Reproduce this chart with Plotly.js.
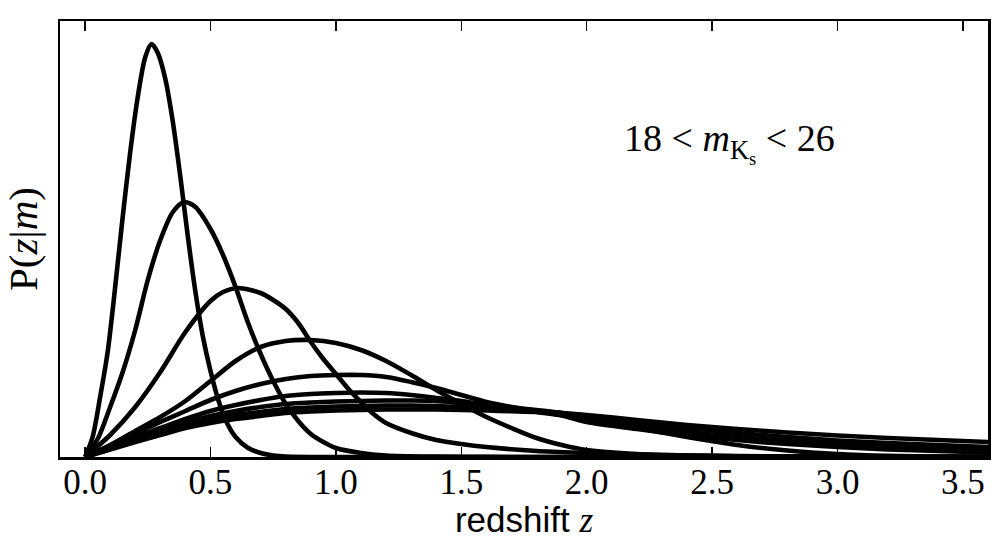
<!DOCTYPE html>
<html>
<head>
<meta charset="utf-8">
<script src="https://cdn.plot.ly/plotly-3.0.1.min.js"></script>
<style>
  html, body { margin: 0; padding: 0; background: #ffffff; }
  #chart { width: 1008px; height: 540px; }
</style>
</head>
<body>
<div id="chart"></div>
<script>
// Redshift distributions P(z|m), one curve per magnitude bin (bright -> faint)
const z1 = [0, 0.03, 0.06, 0.09, 0.12, 0.15, 0.18, 0.21, 0.24, 0.265, 0.29, 0.32, 0.35, 0.38, 0.41, 0.44, 0.47, 0.50, 0.53, 0.56, 0.60, 0.65, 0.70, 0.75, 0.80, 1.0, 2.0, 3.6];
const p1 = [0, 0.2, 0.6, 1.05, 1.7, 2.4, 3.05, 3.6, 4.0, 4.13, 4.04, 3.78, 3.35, 2.8, 2.2, 1.65, 1.2, 0.86, 0.58, 0.37, 0.2, 0.09, 0.04, 0.015, 0.005, 0, 0, 0];

const z2 = [0, 0.05, 0.1, 0.15, 0.2, 0.25, 0.3, 0.35, 0.395, 0.44, 0.5, 0.55, 0.6, 0.65, 0.7, 0.75, 0.8, 0.85, 0.9, 0.95, 1.0, 1.1, 1.2, 1.4, 1.6, 2.0, 3.6];
const p2 = [0, 0.18, 0.5, 0.85, 1.27, 1.77, 2.17, 2.45, 2.55, 2.5, 2.28, 2.02, 1.7, 1.34, 1.03, 0.76, 0.53, 0.36, 0.23, 0.15, 0.09, 0.04, 0.015, 0.004, 0.001, 0, 0];

const z3 = [0, 0.1, 0.2, 0.3, 0.4, 0.5, 0.55, 0.61, 0.7, 0.75, 0.8, 0.85, 0.9, 0.95, 1.0, 1.05, 1.1, 1.15, 1.2, 1.3, 1.4, 1.5, 1.6, 1.8, 2.0, 2.2, 2.5, 3.0, 3.6];
const p3 = [0, 0.22, 0.5, 0.85, 1.25, 1.56, 1.65, 1.69, 1.64, 1.57, 1.48, 1.34, 1.15, 0.98, 0.83, 0.68, 0.55, 0.43, 0.34, 0.24, 0.17, 0.13, 0.10, 0.06, 0.04, 0.025, 0.012, 0.004, 0.001];

const zGrid = [0, 0.1, 0.2, 0.3, 0.4, 0.5, 0.6, 0.7, 0.8, 0.9, 1.0, 1.1, 1.2, 1.3, 1.4, 1.5, 1.6, 1.7, 1.8, 1.9, 2.0, 2.2, 2.4, 2.6, 2.8, 3.0, 3.2, 3.4, 3.6];
const p4 = [0, 0.12, 0.26, 0.4, 0.56, 0.76, 0.96, 1.1, 1.16, 1.17, 1.14, 1.07, 0.96, 0.82, 0.67, 0.53, 0.4, 0.29, 0.19, 0.12, 0.07, 0.03, 0.015, 0.008, 0.004, 0.002, 0.001, 0, 0];
const p5 = [0, 0.11, 0.23, 0.35, 0.46, 0.57, 0.66, 0.73, 0.78, 0.81, 0.82, 0.82, 0.8, 0.75, 0.69, 0.62, 0.55, 0.5, 0.46, 0.42, 0.38, 0.29, 0.2, 0.12, 0.065, 0.03, 0.012, 0.005, 0.002];
const p6 = [0, 0.1, 0.2, 0.29, 0.38, 0.46, 0.52, 0.57, 0.61, 0.63, 0.64, 0.645, 0.64, 0.62, 0.59, 0.56, 0.52, 0.485, 0.45, 0.415, 0.35, 0.28, 0.22, 0.17, 0.13, 0.1, 0.075, 0.06, 0.045];
const p7 = [0, 0.09, 0.18, 0.26, 0.34, 0.41, 0.46, 0.5, 0.53, 0.545, 0.555, 0.56, 0.565, 0.565, 0.56, 0.54, 0.52, 0.495, 0.47, 0.44, 0.38, 0.31, 0.25, 0.2, 0.16, 0.13, 0.105, 0.09, 0.075];
const p8 = [0, 0.08, 0.16, 0.24, 0.31, 0.37, 0.42, 0.45, 0.48, 0.495, 0.505, 0.51, 0.515, 0.515, 0.51, 0.5, 0.49, 0.475, 0.46, 0.44, 0.40, 0.34, 0.29, 0.24, 0.2, 0.165, 0.14, 0.12, 0.10];
const p9 = [0, 0.075, 0.15, 0.22, 0.29, 0.34, 0.38, 0.41, 0.44, 0.455, 0.465, 0.47, 0.475, 0.475, 0.475, 0.47, 0.465, 0.458, 0.45, 0.44, 0.42, 0.37, 0.32, 0.28, 0.245, 0.215, 0.19, 0.17, 0.15];

const xTickVals = [0.0, 0.5, 1.0, 1.5, 2.0, 2.5, 3.0, 3.5];
const xTickText = ['0.0', '0.5', '1.0', '1.5', '2.0', '2.5', '3.0', '3.5'];
const magLabel = '18 < <i>m</i><sub>K<sub>s</sub></sub> < 26';

const serif = 'Liberation Serif, DejaVu Serif, serif';
const sans = 'Liberation Sans, Arial, sans-serif';

const curves = [
  [z1, p1], [z2, p2], [z3, p3],
  [zGrid, p4], [zGrid, p5], [zGrid, p6], [zGrid, p7], [zGrid, p8], [zGrid, p9]
];

const traces = curves.map(([x, y]) => ({
  type: 'scatter',
  mode: 'lines',
  x: x,
  y: y,
  line: { color: '#000000', width: 4.6, shape: 'spline', smoothing: 0.8 },
  hoverinfo: 'skip',
  showlegend: false
}));

const layout = {
  width: 1008,
  height: 540,
  margin: { l: 60, r: 20, t: 21, b: 83 },
  paper_bgcolor: '#ffffff',
  plot_bgcolor: '#ffffff',
  showlegend: false,
  xaxis: {
    range: [-0.1, 3.6],
    tickmode: 'array',
    tickvals: xTickVals,
    ticktext: xTickText,
    ticks: 'inside',
    ticklen: 10,
    tickwidth: 1.5,
    tickcolor: '#000000',
    ticklabelstandoff: -8,
    showline: true,
    linecolor: '#000000',
    linewidth: 2.5,
    mirror: 'ticks',
    showgrid: false,
    zeroline: false,
    tickfont: { family: serif, size: 35, color: '#000000' },
    title: {
      text: 'redshift <span style="font-family:Liberation Serif, serif"><i>z</i></span>',
      font: { family: sans, size: 35, color: '#000000' },
      standoff: 14
    }
  },
  yaxis: {
    range: [0, 4.36],
    showticklabels: false,
    ticks: '',
    showline: true,
    linecolor: '#000000',
    linewidth: 2.5,
    mirror: true,
    showgrid: false,
    zeroline: false,
    title: {
      text: 'P(<i>z</i>|<i>m</i>)',
      font: { family: serif, size: 41, color: '#000000' },
      standoff: 8
    }
  },
  annotations: [{
    x: 2.57,
    y: 3.14,
    xref: 'x',
    yref: 'y',
    text: magLabel,
    showarrow: false,
    font: { family: serif, size: 38, color: '#000000' }
  }]
};

Plotly.newPlot('chart', traces, layout, { displayModeBar: false, staticPlot: true });
</script>
</body>
</html>
